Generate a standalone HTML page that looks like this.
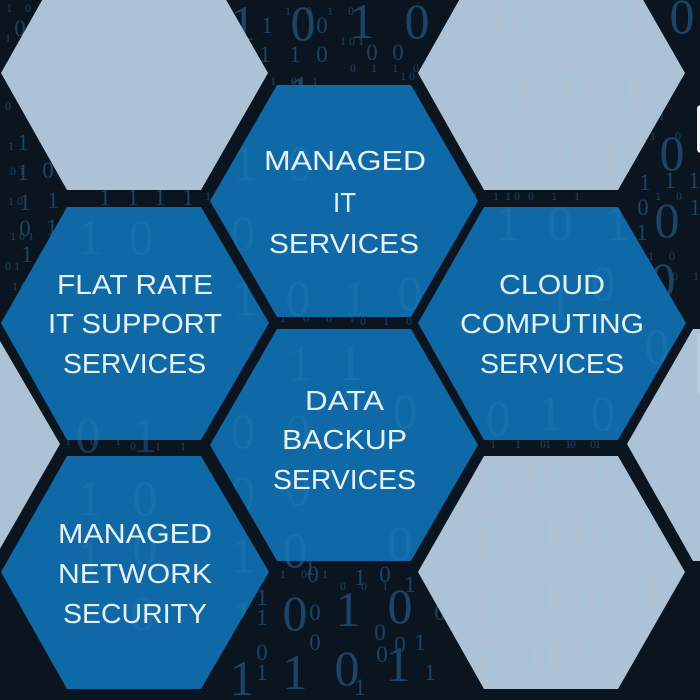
<!DOCTYPE html>
<html><head><meta charset="utf-8"><style>
html,body{margin:0;padding:0;background:#0b151f}
svg{display:block}
.s{font-family:"Liberation Serif",serif}
.b{font-size:50px;text-anchor:middle}
.m{font-size:23px;text-anchor:middle}
.t{font-size:12px}
.l{font-family:"Liberation Sans",sans-serif;font-size:28px;fill:#e6f0f7}
</style></head><body>
<svg width="700" height="700" viewBox="0 0 700 700" xmlns="http://www.w3.org/2000/svg">
<defs>
<clipPath id="blue">
<polygon points="210,201 277,85 411,85 478,201 411,317 277,317"/>
<polygon points="1,323 67,207 201,207 269,323 201,440 67,440"/>
<polygon points="418,323 484,207 618,207 686,323 618,440 484,440"/>
<polygon points="210,445 277,329 411,329 478,445 411,561 277,561"/>
<polygon points="1,572 67,456 201,456 269,572 201,689 67,689"/>
</clipPath>
<clipPath id="light">
<polygon points="1,73 67,-44 201,-44 268,73 201,190 67,190"/>
<polygon points="418,73 484,-44 618,-44 685,73 618,190 484,190"/>
<polygon points="418,572 484,456 618,456 685,572 618,689 484,689"/>
<polygon points="627,444 693,329 827,329 894,444 827,561 693,561"/>
</clipPath>
</defs>
<rect width="700" height="700" fill="#0b151f"/>
<g class="s" fill="#1b4566">
<g class="b">
<text x="243" y="40">1</text><text x="303" y="40">0</text><text x="362" y="38">1</text><text x="417" y="38">0</text><text x="682" y="33">0</text>
<text x="300" y="110">1</text><text x="672" y="170">0</text><text x="667" y="237">0</text><text x="663" y="297">0</text>
<text x="295" y="630">0</text><text x="348" y="626">1</text><text x="400" y="623">0</text>
<text x="242" y="695">1</text><text x="295" y="689">1</text><text x="347" y="685">0</text><text x="398" y="681">1</text>
<text x="88" y="452" fill="#16395a">0</text><text x="145" y="452" fill="#16395a">1</text>
<text x="295" y="567">0</text><text x="400" y="560">0</text>
</g>
<g class="m">
<text x="267" y="33">1</text><text x="322" y="33">0</text><text x="265" y="62">1</text><text x="295" y="62">1</text><text x="322" y="62">0</text>
<text x="372" y="60">0</text><text x="398" y="60">0</text><text x="20" y="36">0</text><text x="23" y="150">1</text><text x="23" y="180">1</text><text x="48" y="178">0</text>
<text x="25" y="210">1</text><text x="53" y="208">1</text><text x="25" y="236">0</text><text x="52" y="235">1</text><text x="27" y="262">1</text>
<text x="645" y="190">1</text><text x="670" y="188">1</text><text x="694" y="188">1</text><text x="643" y="215">0</text><text x="642" y="240">1</text><text x="695" y="215">1</text>
<text x="105" y="205">1</text><text x="160" y="205">1</text><text x="133" y="205">1</text><text x="188" y="205">1</text>
<text x="262" y="605">1</text><text x="313" y="582">0</text><text x="360" y="585">1</text><text x="385" y="582">0</text>
<text x="262" y="625">1</text><text x="262" y="680">1</text><text x="262" y="660">0</text><text x="315" y="650">0</text><text x="315" y="620">0</text>
<text x="310" y="575">1</text><text x="380" y="640">0</text><text x="382" y="662">0</text><text x="400" y="652">0</text><text x="410" y="592">1</text>
<text x="360" y="695">1</text><text x="440" y="620">0</text><text x="432" y="575">1</text><text x="420" y="650">1</text><text x="430" y="680">1</text>
</g>
<g class="t">
<text x="6" y="12" letter-spacing="5">1 0 1</text><text x="5" y="42">1</text><text x="17" y="70">1 0</text><text x="5" y="110" letter-spacing="4">0 1</text><text x="8" y="150">1</text><text x="10" y="175">0 1</text><text x="8" y="205">1 0</text><text x="10" y="240">1 0 1</text><text x="5" y="270">0 1</text><text x="12" y="290">1 0</text>
<text x="285" y="15" letter-spacing="6">1 0 1 0</text><text x="340" y="45">1 0 1</text><text x="350" y="72" letter-spacing="6">0 1 1 0 1</text><text x="400" y="80">1 0</text><text x="270" y="85" letter-spacing="6">1 0 1</text><text x="205" y="200" letter-spacing="6">1 0 1</text>
<text x="640" y="120" letter-spacing="5">0 1</text><text x="650" y="140" letter-spacing="8">1 0</text><text x="648" y="260" letter-spacing="6">1 0</text><text x="672" y="280" letter-spacing="6">0 1</text><text x="655" y="200" letter-spacing="6">1 0</text>
<text x="280" y="578" letter-spacing="6">1 0 1</text><text x="340" y="590" letter-spacing="6">0 0 1</text>
<text x="280" y="322" letter-spacing="7">1 0 0 1</text><text x="360" y="325" letter-spacing="7">0 1 0</text><text x="430" y="200" letter-spacing="6">1 0 1 1 0</text><text x="505" y="200" letter-spacing="7">1 0 1 1</text>
<text x="130" y="450" letter-spacing="8">0 1 1</text><text x="65" y="445" letter-spacing="8">1 0 1</text>
<text x="490" y="448" letter-spacing="8">1 1 0 1 0</text><text x="545" y="448" letter-spacing="8">1 0 1</text>
</g>
</g>
<polygon points="-207,445 -140,329 -7,329 60,444 -7,561 -140,561" fill="#adc3d5"/>
<rect x="697" y="105" width="20" height="48" rx="4" fill="#f2f5f8"/>
<polygon points="627,444 693,329 827,329 894,444 827,561 693,561" fill="#adc3d5"/>
<rect x="697" y="332" width="20" height="64" rx="5" fill="#b9ccdb"/>
<polygon points="1,73 67,-44 201,-44 268,73 201,190 67,190" fill="#adc3d5"/>
<polygon points="418,73 484,-44 618,-44 685,73 618,190 484,190" fill="#adc3d5"/>
<polygon points="418,572 484,456 618,456 685,572 618,689 484,689" fill="#adc3d5"/>
<polygon points="210,201 277,85 411,85 478,201 411,317 277,317" fill="#0f69a6"/>
<polygon points="1,323 67,207 201,207 269,323 201,440 67,440" fill="#0f69a6"/>
<polygon points="418,323 484,207 618,207 686,323 618,440 484,440" fill="#0f69a6"/>
<polygon points="210,445 277,329 411,329 478,445 411,561 277,561" fill="#0f69a6"/>
<polygon points="1,572 67,456 201,456 269,572 201,689 67,689" fill="#0f69a6"/>
<g clip-path="url(#light)">
<g class="s b" fill="#a6c3da">
<text x="515" y="35">0</text><text x="575" y="35">1</text><text x="628" y="35">1</text><text x="512" y="105">1</text><text x="568" y="105">0</text><text x="625" y="105">1</text><text x="510" y="172">1</text><text x="568" y="172">1</text><text x="620" y="172">1</text>
<text x="495" y="495">1</text><text x="547" y="492">0</text><text x="600" y="488">1</text><text x="492" y="555">1</text><text x="545" y="552">1</text><text x="595" y="548">0</text><text x="647" y="542">1</text><text x="490" y="620">1</text><text x="545" y="615">1</text><text x="593" y="610">0</text><text x="642" y="608">1</text><text x="490" y="680">1</text><text x="538" y="672">0</text><text x="590" y="665">1</text>
<text x="653" y="427">0</text>
</g>
<g class="s m" fill="#a8c3d8">
<text x="100" y="35">1</text><text x="130" y="35">0</text><text x="160" y="35">1</text><text x="187" y="35">0</text>
<text x="100" y="92">0</text><text x="130" y="92">1</text><text x="160" y="92">0</text><text x="187" y="92">0</text>
<text x="50" y="120">0</text><text x="100" y="122">0</text><text x="130" y="122">0</text><text x="160" y="122">1</text><text x="187" y="122">1</text>
<text x="52" y="150">0</text><text x="102" y="150">1</text><text x="130" y="150">0</text><text x="160" y="150">1</text><text x="187" y="150">0</text>
<text x="102" y="178">1</text><text x="130" y="178">0</text><text x="160" y="178">1</text><text x="187" y="178">0</text>
</g>
</g>
<g clip-path="url(#blue)">
<g class="s b" fill="#176fac">
<text x="141" y="254">0</text><text x="90" y="254">1</text><text x="243" y="250">0</text><text x="298" y="315">0</text><text x="245" y="315">1</text><text x="355" y="315">1</text><text x="410" y="310">0</text><text x="300" y="180">0</text><text x="245" y="180">1</text>
<text x="243" y="448">0</text><text x="298" y="448">0</text><text x="243" y="510">0</text><text x="298" y="505">0</text><text x="295" y="567">0</text><text x="400" y="560">0</text><text x="405" y="428">0</text><text x="350" y="380">1</text><text x="300" y="380">1</text>
<text x="88" y="452">0</text><text x="145" y="452">1</text><text x="90" y="515">1</text><text x="145" y="515">0</text><text x="90" y="575">1</text><text x="145" y="565">0</text><text x="243" y="572">1</text><text x="243" y="635">1</text><text x="143" y="630">0</text>
<text x="508" y="240">1</text><text x="560" y="240">0</text><text x="618" y="240">1</text><text x="560" y="320">1</text><text x="603" y="300">0</text><text x="498" y="435">0</text><text x="550" y="430">1</text><text x="603" y="430">0</text><text x="657" y="363">0</text>
</g>
</g>
<text class="l" x="264" y="170" textLength="162" lengthAdjust="spacingAndGlyphs">MANAGED</text>
<text class="l" x="333" y="212" textLength="23" lengthAdjust="spacingAndGlyphs">IT</text>
<text class="l" x="269" y="253" textLength="150" lengthAdjust="spacingAndGlyphs">SERVICES</text>
<text class="l" x="57" y="294" textLength="156" lengthAdjust="spacingAndGlyphs">FLAT RATE</text>
<text class="l" x="48" y="333" textLength="174" lengthAdjust="spacingAndGlyphs">IT SUPPORT</text>
<text class="l" x="63" y="373" textLength="143" lengthAdjust="spacingAndGlyphs">SERVICES</text>
<text class="l" x="499" y="294" textLength="106" lengthAdjust="spacingAndGlyphs">CLOUD</text>
<text class="l" x="460" y="333" textLength="184" lengthAdjust="spacingAndGlyphs">COMPUTING</text>
<text class="l" x="480" y="373" textLength="144" lengthAdjust="spacingAndGlyphs">SERVICES</text>
<text class="l" x="305" y="410" textLength="79" lengthAdjust="spacingAndGlyphs">DATA</text>
<text class="l" x="282" y="449" textLength="125" lengthAdjust="spacingAndGlyphs">BACKUP</text>
<text class="l" x="273" y="489" textLength="143" lengthAdjust="spacingAndGlyphs">SERVICES</text>
<text class="l" x="58" y="543" textLength="154" lengthAdjust="spacingAndGlyphs">MANAGED</text>
<text class="l" x="58" y="583" textLength="154" lengthAdjust="spacingAndGlyphs">NETWORK</text>
<text class="l" x="63" y="623" textLength="144" lengthAdjust="spacingAndGlyphs">SECURITY</text>
</svg>
</body></html>
